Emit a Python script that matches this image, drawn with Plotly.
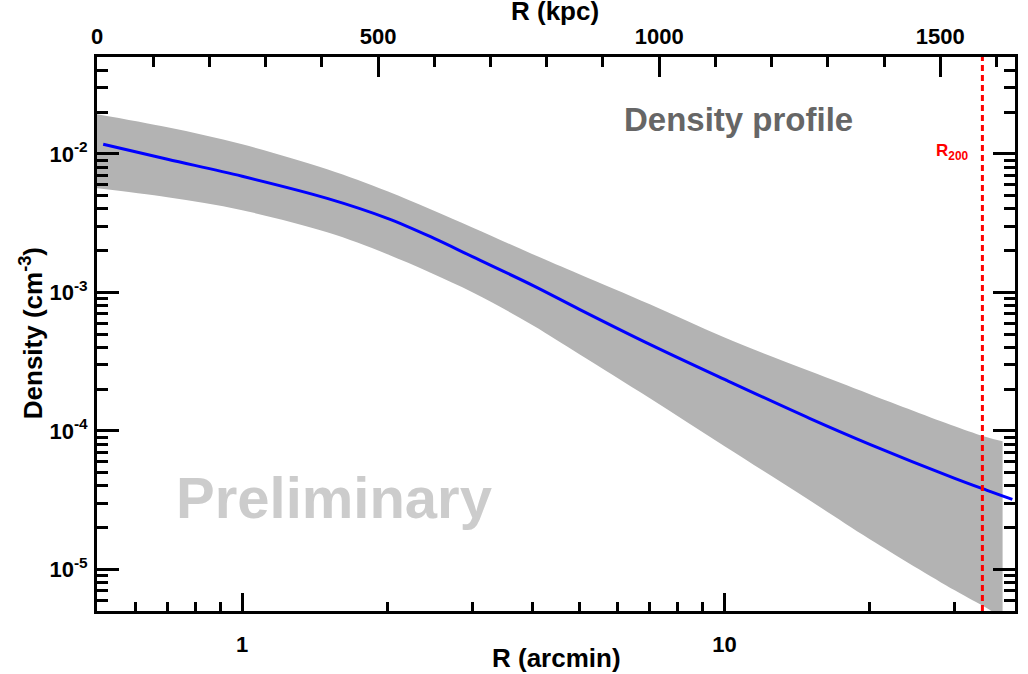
import numpy as np
import plotly.graph_objects as go

# ---------------- data ----------------
# best-fit density profile (blue line)
r_arcmin = [0.515, 0.7, 1.0, 1.5, 2.0, 2.5, 3.0, 4.0, 5.0, 7.0, 10.0, 15.0, 20.0, 30.0, 35.0, 39.5]
density = [0.01171, 0.00913, 0.00688, 0.00477, 0.00342, 0.00245, 0.00181, 0.001123,
           7.54e-4, 4.21e-4, 2.35e-4, 1.231e-4, 7.99e-5, 4.54e-5, 3.72e-5, 3.20e-5]

# uncertainty envelope (grey band)
band_r = [0.5, 0.7, 1.0, 1.5, 2.0, 3.0, 4.0, 5.0, 7.0, 10.0, 15.0, 20.0, 30.0, 35.0, 37.7]
band_upper = [0.01929, 0.01553, 0.01171, 0.00773, 0.00536, 0.00294, 0.00188, 0.00135,
              8.19e-4, 4.71e-4, 2.70e-4, 1.84e-4, 1.08e-4, 8.98e-5, 8.40e-5]
band_lower = [0.00563, 0.00485, 0.00391, 0.00271, 0.00188, 1.000e-3, 5.78e-4, 3.57e-4,
              1.717e-4, 7.73e-5, 3.15e-5, 1.65e-5, 7.05e-6, 5.23e-6, 4.43e-6]

r200_kpc = 1575

# axis ranges / ticks
x_range = [0.5, 40]
y_range = [5e-6, 5e-2]
kpc_range = [0, 1633]
x_major = [1, 10]
x_major_text = ["1", "10"]
x_minor = [0.6, 0.7, 0.8, 0.9, 2, 3, 4, 5, 6, 7, 8, 9, 20, 30]
y_major = [1e-5, 1e-4, 1e-3, 1e-2]
y_major_text = ["10<sup>-5</sup>", "10<sup>-4</sup>", "10<sup>-3</sup>", "10<sup>-2</sup>"]
y_minor = [k * 10.0 ** e for e in range(-6, -1) for k in range(2, 10)]

# ---------------- figure ----------------
W, H = 1028, 674
ML, MR, MT, MB = 97, 10, 57, 63
FONT = "Liberation Sans, Arial, Helvetica, sans-serif"


def px_x(px):
    return (px - ML) / (W - ML - MR)


def px_y(py):
    return (H - MB - py) / (H - MT - MB)


fig = go.Figure()

# band: lower edge, then upper edge filled down to it
fig.add_trace(go.Scatter(
    x=band_r, y=band_lower, mode="lines",
    line=dict(width=0, color="#b3b3b3", shape="spline", smoothing=1.0),
    hoverinfo="skip", showlegend=False,
))
fig.add_trace(go.Scatter(
    x=band_r, y=band_upper, mode="lines", fill="tonexty", fillcolor="#b3b3b3",
    line=dict(width=0, color="#b3b3b3", shape="spline", smoothing=1.0),
    hoverinfo="skip", showlegend=False,
))

fig.add_trace(go.Scatter(
    x=r_arcmin, y=density, mode="lines",
    line=dict(color="#0000ff", width=3, shape="spline", smoothing=1.0),
    showlegend=False,
))

fig.add_trace(go.Scatter(
    x=[r200_kpc, r200_kpc], y=y_range, xaxis="x2", yaxis="y",
    mode="lines", line=dict(color="#ff0000", width=3, dash="6px,4px"),
    showlegend=False, hoverinfo="skip",
))

tickfont = dict(family=FONT, size=22, color="black", weight="bold")

fig.update_layout(
    width=W, height=H,
    margin=dict(l=ML, r=MR, t=MT, b=MB, pad=0),
    paper_bgcolor="white", plot_bgcolor="white",
    showlegend=False,
    xaxis=dict(
        type="log", range=[np.log10(x_range[0]), np.log10(x_range[1])],
        tickmode="array", tickvals=x_major, ticktext=x_major_text,
        ticks="inside", ticklen=18, tickwidth=3, tickcolor="black",
        minor=dict(tickmode="array", tickvals=x_minor, ticks="inside",
                   ticklen=9, tickwidth=3, tickcolor="black", showgrid=False),
        showline=True, linewidth=3, linecolor="black", mirror=False,
        showgrid=False, zeroline=False, tickfont=tickfont,
        ticklabelstandoff=12,
    ),
    xaxis2=dict(
        overlaying="x", side="top", anchor="y",
        range=kpc_range, tickmode="linear", tick0=0, dtick=500,
        ticks="inside", ticklen=20, tickwidth=3, tickcolor="black",
        minor=dict(dtick=100, ticks="inside", ticklen=10, tickwidth=3,
                   tickcolor="black", showgrid=False),
        showline=True, linewidth=3, linecolor="black",
        showgrid=False, zeroline=False, tickfont=tickfont,
        ticklabelstandoff=1,
    ),
    yaxis=dict(
        type="log", range=[np.log10(y_range[0]), np.log10(y_range[1])],
        tickmode="array", tickvals=y_major, ticktext=y_major_text,
        ticks="inside", ticklen=22, tickwidth=3, tickcolor="black",
        minor=dict(tickmode="array", tickvals=y_minor, ticks="inside",
                   ticklen=11, tickwidth=3, tickcolor="black", showgrid=False),
        showline=True, linewidth=3, linecolor="black", mirror="ticks",
        showgrid=False, zeroline=False, tickfont=tickfont,
        ticklabelstandoff=2,
    ),
)

ann_font = dict(family=FONT, weight="bold")
fig.add_annotation(text="R (kpc)", xref="paper", yref="paper",
                   x=px_x(556), y=px_y(11), showarrow=False,
                   xanchor="center", yanchor="middle",
                   font=dict(**ann_font, size=26, color="black"))
fig.add_annotation(text="R (arcmin)", xref="paper", yref="paper",
                   x=px_x(558), y=px_y(658), showarrow=False,
                   xanchor="center", yanchor="middle",
                   font=dict(**ann_font, size=26, color="black"))
fig.add_annotation(text="Density (cm<sup>-3</sup>)", xref="paper", yref="paper",
                   x=px_x(31), y=px_y(333), showarrow=False, textangle=-90,
                   xanchor="center", yanchor="middle",
                   font=dict(**ann_font, size=26, color="black"))
fig.add_annotation(text="Density profile", xref="paper", yref="paper",
                   x=px_x(741), y=px_y(120), showarrow=False,
                   xanchor="center", yanchor="middle",
                   font=dict(**ann_font, size=33, color="#666666"))
fig.add_annotation(text="Preliminary", xref="paper", yref="paper",
                   x=px_x(335), y=px_y(497), showarrow=False,
                   xanchor="center", yanchor="middle",
                   font=dict(**ann_font, size=58, color="#cccccc"))
fig.add_annotation(text="R<sub>200</sub>", xref="paper", yref="paper",
                   x=px_x(955), y=px_y(152), showarrow=False,
                   xanchor="center", yanchor="middle",
                   font=dict(**ann_font, size=17, color="#ff0000"))

fig.write_html("out.html")
